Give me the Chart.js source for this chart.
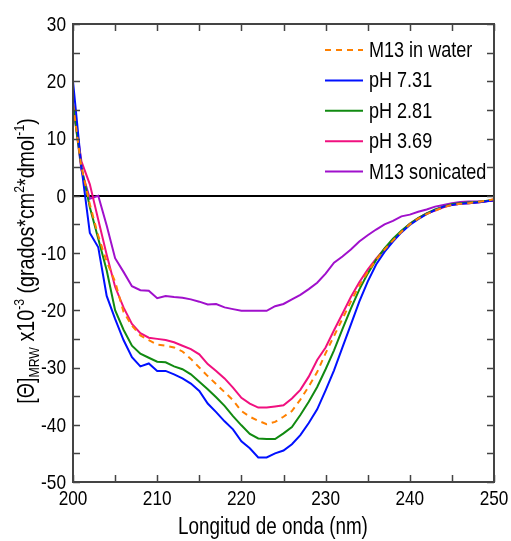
<!DOCTYPE html>
<html><head><meta charset="utf-8">
<style>html,body{margin:0;padding:0;background:#fff}</style>
<script src="https://cdn.jsdelivr.net/npm/chart.js@4"></script>
</head><body>
<canvas id="c" width="511" height="541" style="display:block;width:511px;height:541px"></canvas>
<script>
const wavelengths = [];
for (let w = 200; w <= 250; w++) wavelengths.push(w);
const m13Water = [16,5,-1.5,-7,-11.5,-15,-20.3,-22.7,-24.4,-25.2, -26,-26.2,-26.5,-27.2,-28.5,-30,-31.5,-32.9,-34.3,-35.7, -37.6,-38.6,-39.3,-39.9,-39.5,-38.6,-37.6,-35.6,-33.3,-30.8, -27.5,-24.5,-21.5,-18.5,-15.7,-13.3,-11.2,-9.4,-7.8,-6.3, -5.0,-4.0,-3.2,-2.6,-2.0,-1.6,-1.4,-1.3,-1.1,-0.9,-0.6];
const ph731 = [20,5,-6.5,-9,-17.5,-21.5,-25.2,-28.2,-29.8,-29.3, -30.6,-30.6,-31.2,-31.9,-32.8,-34.1,-36.3,-37.8,-39.4,-40.8, -42.9,-44.1,-45.7,-45.7,-45.0,-44.5,-43.4,-41.8,-39.7,-37.3, -34,-30.5,-26.5,-22.5,-18.5,-15,-12,-9.8,-8,-6.4, -5.1,-4.1,-3.2,-2.5,-1.9,-1.6,-1.4,-1.3,-1.2,-1.0,-0.8];
const ph281 = [16,5,-2,-7.5,-13,-20,-23.4,-26.2,-27.6,-28.3, -29.0,-29.1,-29.8,-30.3,-31.2,-32.5,-33.8,-35.2,-36.7,-38.5, -40.1,-41.6,-42.4,-42.5,-42.5,-41.5,-40.4,-38.3,-36,-33.4, -30.3,-27,-23.3,-19.7,-16.4,-13.6,-11.2,-9.2,-7.5,-6.1, -4.9,-3.9,-3.1,-2.4,-1.9,-1.5,-1.3,-1.2,-1.1,-0.9,-0.7];
const ph369 = [16,6,2,-4.2,-10.3,-15.9,-19.5,-22.4,-24,-24.8, -25,-25.2,-25.6,-26.2,-26.8,-27.7,-29.4,-30.6,-31.9,-33.5, -35.3,-36.3,-37,-37,-36.8,-36.6,-35.4,-33.9,-31.6,-28.7, -26.5,-23.5,-20.6,-17.7,-15.1,-12.9,-11,-9.3,-7.8,-6.3, -4.9,-3.9,-3.1,-2.6,-2.0,-1.6,-1.4,-1.3,-1.2,-1.0,-0.6];
const m13Sonicated = [16,4.5,-0.5,0,-5.2,-10.9,-13.3,-15.8,-16.5,-16.6, -17.9,-17.5,-17.7,-17.8,-18.1,-18.5,-19,-18.9,-19.5,-19.8, -20.1,-20.1,-20.1,-20.1,-19.3,-18.9,-18.1,-17.3,-16.3,-15.2, -13.6,-11.7,-10.6,-9.4,-8,-6.9,-5.9,-5.0,-4.4,-3.6, -3.3,-2.8,-2.4,-1.9,-1.6,-1.3,-1.1,-1.0,-1.0,-0.9,-0.9];
const seriesNames = ['M13 in water','pH 7.31','pH 2.81','pH 3.69','M13 sonicated'];
const xTicks = [200,210,220,230,240,250];
const yTicks = [30,20,10,0,-10,-20,-30,-40,-50];

const FONT = "'Liberation Sans',Arial,sans-serif";
const NARROW = 0.82;
const toPts = arr => arr.map((v, i) => ({x: wavelengths[i], y: v}));
const colors = ['#ff8000','#0010ff','#118a11','#f0107f','#a010cc'];
const series = [m13Water, ph731, ph281, ph369, m13Sonicated];
const datasets = series.map((s, i) => ({
  label: seriesNames[i],
  data: toPts(s),
  borderColor: colors[i],
  backgroundColor: colors[i],
  borderWidth: 2,
  borderDash: i === 0 ? [6,5] : [],
  pointRadius: 0,
  tension: 0,
  fill: false
}));

function narrowText(ctx, text, x, y, align, baseline, font) {
  ctx.save();
  ctx.font = font;
  ctx.textAlign = align;
  ctx.textBaseline = baseline;
  ctx.translate(x, y);
  ctx.scale(NARROW, 1);
  ctx.fillText(text, 0, 0);
  ctx.restore();
}

const framePlugin = {
  id: 'frame',
  afterDraw(chart) {
    const {ctx, chartArea: a, scales} = chart;
    const xs = scales.x, ys = scales.y;
    ctx.save();
    ctx.strokeStyle = '#444';
    ctx.lineWidth = 2;
    ctx.strokeRect(a.left, a.top, a.right - a.left, a.bottom - a.top);
    ctx.lineWidth = 1.5;
    ctx.beginPath();
    for (let v = 200; v <= 250; v += 5) {
      const px = Math.round(xs.getPixelForValue(v)) + 0.5;
      ctx.moveTo(px, a.bottom); ctx.lineTo(px, a.bottom - 7);
      ctx.moveTo(px, a.top); ctx.lineTo(px, a.top + 7);
    }
    for (let v = -50; v <= 30; v += 5) {
      const py = Math.round(ys.getPixelForValue(v)) + 0.5;
      ctx.moveTo(a.left, py); ctx.lineTo(a.left + 7, py);
      ctx.moveTo(a.right, py); ctx.lineTo(a.right - 7, py);
    }
    ctx.stroke();

    ctx.fillStyle = '#000';
    const tickFont = '21px ' + FONT;
    yTicks.forEach(v => narrowText(ctx, String(v), a.left - 7, ys.getPixelForValue(v) + 1, 'right', 'middle', tickFont));
    xTicks.forEach(v => narrowText(ctx, String(v), xs.getPixelForValue(v), a.bottom + 17, 'center', 'middle', tickFont));

    // legend
    const lx0 = 325, lx1 = 363, tx = 369;
    chart.data.datasets.forEach((d, i) => {
      const y = 50 + i * 30.4;
      ctx.strokeStyle = d.borderColor;
      ctx.lineWidth = 2;
      ctx.setLineDash(d.borderDash || []);
      ctx.beginPath(); ctx.moveTo(lx0, y); ctx.lineTo(lx1, y); ctx.stroke();
      ctx.setLineDash([]);
      narrowText(ctx, d.label, tx, y + 1, 'left', 'middle', '22px ' + FONT);
    });

    // x title
    narrowText(ctx, 'Longitud de onda (nm)', 273, 528, 'center', 'middle', '23px ' + FONT);

    // y title with sub/superscripts
    const segs = [
      ['[\u0398]', 'n'], ['MRW', 'sub'], [' x10', 'n'], ['-3', 'sup'],
      [' (grados*cm', 'n'], ['2', 'sup'], ['*dmol', 'n'], ['-1', 'sup'], [')', 'n']
    ];
    const big = '24px ' + FONT, small = '15px ' + FONT;
    let total = 0;
    segs.forEach(s => { ctx.font = s[1] === 'n' ? big : small; total += ctx.measureText(s[0]).width; });
    ctx.save();
    ctx.translate(25, 261);
    ctx.rotate(-Math.PI / 2);
    ctx.scale(NARROW, 1);
    ctx.textAlign = 'left';
    ctx.textBaseline = 'alphabetic';
    let x = -total / 2;
    segs.forEach(s => {
      ctx.font = s[1] === 'n' ? big : small;
      const dy = s[1] === 'sub' ? 5 : s[1] === 'sup' ? -10 : 0;
      ctx.fillText(s[0], x, 9 + dy);
      x += ctx.measureText(s[0]).width;
    });
    ctx.restore();
    ctx.restore();
  }
};

new Chart(document.getElementById('c'), {
  type: 'line',
  data: { datasets },
  options: {
    responsive: false,
    devicePixelRatio: 1,
    animation: false,
    layout: { padding: { left: 0, right: 17, top: 24, bottom: 0 } },
    plugins: { legend: { display: false }, tooltip: { enabled: false } },
    scales: {
      x: {
        type: 'linear', min: 200, max: 250,
        afterFit: s => { s.height = 59; },
        afterBuildTicks: s => { s.ticks = xTicks.map(v => ({value: v})); },
        grid: { display: false, drawTicks: false },
        border: { display: false },
        ticks: { display: false }
      },
      y: {
        type: 'linear', min: -50, max: 30,
        afterFit: s => { s.width = 73; },
        afterBuildTicks: s => { s.ticks = yTicks.map(v => ({value: v})); },
        grid: {
          drawTicks: false,
          color: c => (c.tick && c.tick.value === 0) ? '#000' : 'rgba(0,0,0,0)',
          lineWidth: 2
        },
        border: { display: false },
        ticks: { display: false }
      }
    }
  },
  plugins: [framePlugin]
});
</script>
</body></html>
